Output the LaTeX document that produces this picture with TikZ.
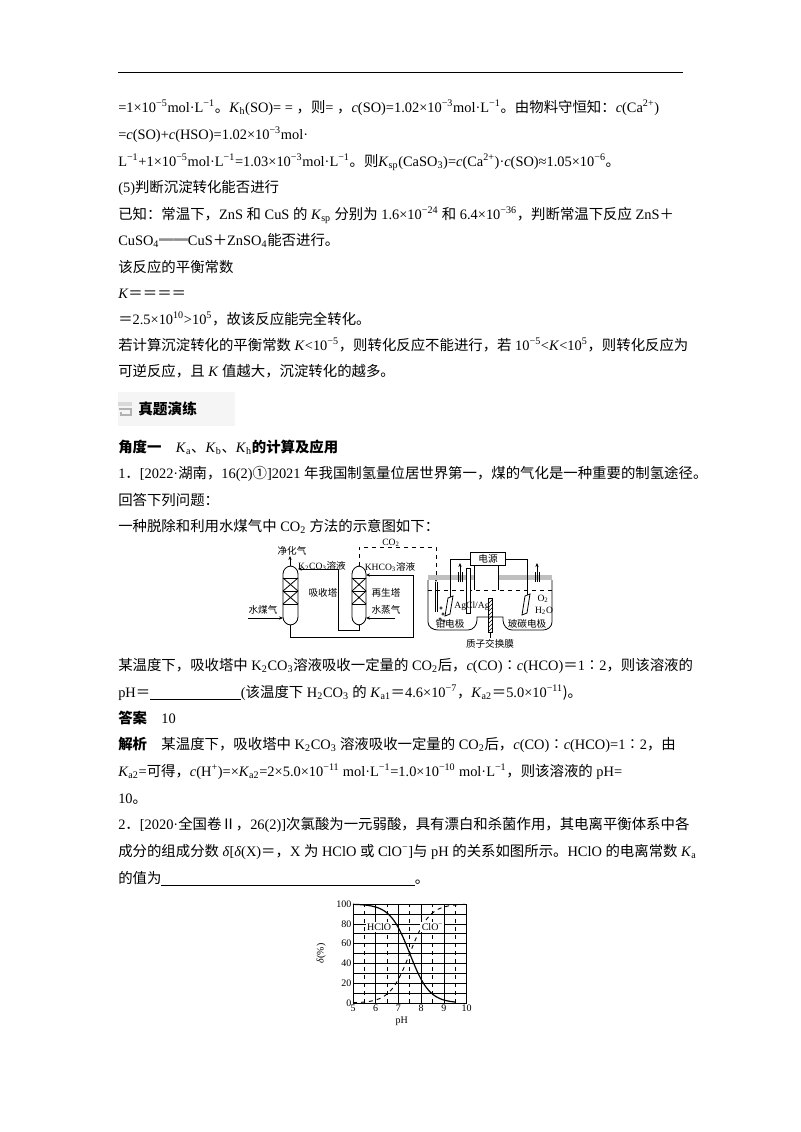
\documentclass[tikz,border=0pt]{standalone}
\usepackage{fontspec}
\setmainfont{Liberation Serif}
\newfontfamily\zhf{Noto Sans CJK SC}
\newcommand{\zh}[1]{{\zhf #1}}
\newcommand{\sps}[1]{\textsuperscript{#1}}
\newcommand{\sbs}[1]{\textsubscript{#1}}
\newcommand{\blank}[1]{\underline{\hbox to #1{}}}
\usetikzlibrary{patterns,arrows.meta}
\tikzset{
  tx/.style={anchor=base west,inner sep=0pt,font=\fontsize{10.8pt}{13pt}\selectfont},
  sm/.style={inner sep=0pt,font=\fontsize{7.2pt}{8pt}\selectfont},
  pipe/.style={line width=0.6pt},
  arr/.style={pipe,-{Stealth[length=3pt,width=2.5pt]}},
  ax/.style={inner sep=1pt,font=\fontsize{7.5pt}{8pt}\selectfont}
}
\begin{document}
\begin{tikzpicture}[x=0.75pt,y=-0.75pt]
\useasboundingbox[fill=white] (0,0) rectangle (800,1132);
\draw[line width=0.6pt] (118,72) -- (683,72);
% text lines
\node[tx] (l1) at (118,112) {=1×10\sps{−5}mol·L\sps{−1}\zh{。}\textit{K}\sbs{h}(SO)= = \zh{，则}= \zh{，}\textit{c}(SO)=1.02×10\sps{−3}mol·L\sps{−1}\zh{。由物料守恒知：}\textit{c}(Ca\sps{2+})};
\node[tx] (l2) at (118,139) {=\textit{c}(SO)+\textit{c}(HSO)=1.02×10\sps{−3}mol·};
\node[tx] (l3) at (118,166) {L\sps{−1}+1×10\sps{−5}mol·L\sps{−1}=1.03×10\sps{−3}mol·L\sps{−1}\zh{。则}\textit{K}\sbs{sp}(CaSO\sbs{3})=\textit{c}(Ca\sps{2+})·\textit{c}(SO)≈1.05×10\sps{−6}\zh{。}};
\node[tx] (l4) at (118,192) {(5)\zh{判断沉淀转化能否进行}};
\node[tx] (l5) at (118,219) {\zh{已知：常温下，}ZnS \zh{和} CuS \zh{的} \textit{K}\sbs{sp} \zh{分别为} 1.6×10\sps{−24} \zh{和} 6.4×10\sps{−36}\zh{，判断常温下反应} ZnS\zh{＋}};
\node[tx] (l6) at (118,245) {CuSO\sbs{4}\zh{══}CuS\zh{＋}ZnSO\sbs{4}\zh{能否进行。}};
\node[tx] (l7) at (118,272) {\zh{该反应的平衡常数}};
\node[tx] (l8) at (118,298) {\textit{K}\zh{＝＝＝＝}};
\node[tx] (l9) at (118,324) {\zh{＝}2.5×10\sps{10}>10\sps{5}\zh{，故该反应能完全转化。}};
\node[tx] (l10) at (118,350) {\zh{若计算沉淀转化的平衡常数} \textit{K}<10\sps{−5}\zh{，则转化反应不能进行，若} 10\sps{−5}<\textit{K}<10\sps{5}\zh{，则转化反应为}};
\node[tx] (l11) at (118,376) {\zh{可逆反应，且} \textit{K} \zh{值越大，沉淀转化的越多。}};
% header
\fill[gray!8] (118,392) rectangle (235,426);
\fill[gray!30] (118,402) rectangle (132,406);
\draw[gray!60,line width=1.2pt] (119,409) -- (131,409) -- (131,415) -- (121,415) -- (121,412);
\node[tx,font=\fontsize{11pt}{13pt}\selectfont\bfseries] (hd) at (138,414) {\zh{真题演练}};
\node[tx] (l12) at (118,452) {\zh{\bfseries 角度一}\quad \textit{K}\sbs{a}\zh{、}\textit{K}\sbs{b}\zh{、}\textit{K}\sbs{h}\zh{\bfseries 的计算及应用}};
\node[tx] (l13) at (118,478) {1\zh{．}[2022·\zh{湖南，}16(2)\zh{①}]2021 \zh{年我国制氢量位居世界第一，煤的气化是一种重要的制氢途径。}};
\node[tx] (l14) at (118,505) {\zh{回答下列问题：}};
\node[tx] (l15) at (118,531) {\zh{一种脱除和利用水煤气中} CO\sbs{2} \zh{方法的示意图如下：}};
% ---- process diagram ----
\begin{scope}[pipe]
\draw[rounded corners=6pt] (283,566) rectangle (298,625);
\draw (283,578) -- (298,578) (283,604) -- (298,604) (283,591) -- (298,591);
\draw (283,578) -- (298,591) (298,578) -- (283,591) (283,591) -- (298,604) (298,591) -- (283,604);
\draw[rounded corners=6pt] (352,566) rectangle (366,625);
\draw (352,578) -- (366,578) (352,604) -- (366,604) (352,591) -- (366,591);
\draw (352,578) -- (366,591) (366,578) -- (352,591) (352,591) -- (366,604) (366,591) -- (352,604);
\end{scope}
\coordinate (abT) at (290,566); \coordinate (abB) at (290,625);
\coordinate (rgT) at (359,566); \coordinate (rgB) at (359,625);
\draw[arr] (abT) -- (290,556);
\node[sm] (jh) at (292,551) {\zh{净化气}};
\draw[arr] (rgB) -- (359,630) -- (338,630) -- (338,569) -- (298,569);
\node[sm] (k2) at (322,566) {K\sbs{2}CO\sbs{3}\zh{溶液}};
\draw[arr] (abB) -- (290,637) -- (413,637) -- (413,575) -- (366,575);
\node[sm] (kh) at (390,567) {KHCO\sbs{3}\zh{溶液}};
\draw[arr] (248,618) -- (283,618);
\node[sm] (sm1) at (263,610) {\zh{水煤气}};
\draw[arr] (395,618) -- (366,618);
\node[sm] (sm2) at (386,610) {\zh{水蒸气}};
\node[sm] (xs) at (323,593) {\zh{吸收塔}};
\node[sm] (zs) at (386,593) {\zh{再生塔}};
\draw[pipe,dashed,-{Stealth[length=3pt,width=2.5pt]}] (rgT) -- (359,547) -- (436,547) -- (436,582);
\node[sm] (co2) at (391,543) {CO\sbs{2}};
% electrolysis cell
\begin{scope}[pipe]
\draw (428,580) -- (428,622) to[out=-90,in=180] (438,630) -- (468,630) to[out=0,in=-90] (477,620) -- (477,617) -- (503,617) -- (503,620) to[out=-90,in=180] (512,630) -- (543,630) to[out=0,in=-90] (552,622) -- (552,580);
\fill[gray!50] (428,575) rectangle (474,580);
\fill[gray!50] (498,575) rectangle (552,580);
\draw (474,560) -- (474,590) (498,560) -- (498,590);
\draw (474,560) -- (498,560);
\draw[dashed] (428,590) -- (552,590);
\end{scope}
\node[draw,pipe,fill=white,sm,minimum width=26pt,minimum height=10pt,inner sep=1pt] (dy) at (488,559) {\zh{电源}};
\draw[pipe] (dy.west) -- (450,559) -- (450,612);
\draw[pipe] (dy.east) -- (527,559) -- (527,605);
\draw[pipe] (435,582) -- (435,612) (437,582) -- (437,612);
\draw[pipe,fill=white] (466,568) rectangle (470,613);
\draw[arr] (460,582) -- (460,563);
\draw[pipe] (458,572) -- (458,582) (462,572) -- (462,582);
\draw[arr] (537,582) -- (537,563);
\draw[pipe] (535,572) -- (535,582) (539,572) -- (539,582);
\draw[pipe,fill=white] (448,598) -- (453,596) -- (450,614) -- (445,616) -- cycle;
\draw[pipe,fill=white] (525,596) -- (530,594) -- (527,613) -- (522,615) -- cycle;
\foreach \p in {(441,608),(443,614),(440,619),(444,621)} \draw[line width=0.4pt] \p circle (1.2);
\draw[pattern=north east lines,line width=0.4pt] (488,598) rectangle (492,632);
\draw[line width=0.4pt] (490,632) -- (490,638);
\node[sm] (agcl) at (472,606) {AgCl/Ag};
\node[sm] (o2) at (543,599) {O\sbs{2}};
\node[sm] (h2o) at (544,611) {H\sbs{2}O};
\node[sm] (pt) at (450,624) {\zh{铂电极}};
\node[sm] (bt) at (527,624) {\zh{玻碳电极}};
\node[sm] (zz) at (490,644) {\zh{质子交换膜}};
% text after diagram
\node[tx] (l16) at (118,670) {\zh{某温度下，吸收塔中} K\sbs{2}CO\sbs{3}\zh{溶液吸收一定量的} CO\sbs{2}\zh{后，}\textit{c}(CO)\zh{∶}\textit{c}(HCO)\zh{＝}1\zh{∶}2\zh{，则该溶液的}};
\node[tx] (l17) at (118,697) {pH\zh{＝}\blank{68pt}(\zh{该温度下} H\sbs{2}CO\sbs{3} \zh{的} \textit{K}\sbs{a1}\zh{＝}4.6×10\sps{−7}\zh{，}\textit{K}\sbs{a2}\zh{＝}5.0×10\sps{−11}\zh{)。}};
\node[tx] (l18) at (118,723) {\zh{\bfseries 答案}\quad 10};
\node[tx] (l19) at (118,749) {\zh{\bfseries 解析}\quad \zh{某温度下，吸收塔中} K\sbs{2}CO\sbs{3} \zh{溶液吸收一定量的} CO\sbs{2}\zh{后，}\textit{c}(CO)\zh{∶}\textit{c}(HCO)=1\zh{∶}2\zh{，由}};
\node[tx] (l20) at (118,776) {\textit{K}\sbs{a2}=\zh{可得，}\textit{c}(H\sps{+})=×\textit{K}\sbs{a2}=2×5.0×10\sps{−11} mol·L\sps{−1}=1.0×10\sps{−10} mol·L\sps{−1}\zh{，则该溶液的} pH=};
\node[tx] (l21) at (118,803) {10\zh{。}};
\node[tx] (l22) at (118,829) {2\zh{．}[2020·\zh{全国卷Ⅱ，}26(2)]\zh{次氯酸为一元弱酸，具有漂白和杀菌作用，其电离平衡体系中各}};
\node[tx] (l23) at (118,856) {\zh{成分的组成分数} \textit{δ}[\textit{δ}(X)\zh{＝，}X \zh{为} HClO \zh{或} ClO\sps{−}]\zh{与} pH \zh{的关系如图所示。}HClO \zh{的电离常数} \textit{K}\sbs{a}};
\node[tx] (l24) at (118,883) {\zh{的值为}\blank{190pt}\zh{。}};
% ---- graph ----
\begin{scope}[shift={(353,1003)},x=22.7*0.75pt,y=0.99*0.75pt]
\foreach \v in {10,20,...,90} \draw[line width=0.4pt] (0,\v) -- (5,\v);
\foreach \v in {6,7,8,9} \draw[line width=0.4pt] (\v-5,0) -- (\v-5,100);
\foreach \v in {5.5,6.5,7.5,8.5,9.5} \draw[line width=0.4pt,dashed] (\v-5,0) -- (\v-5,100);
\draw[line width=0.6pt] (0,0) rectangle (5,100);
\foreach \v in {0,20,40,60,80,100} \node[ax,anchor=east] at (0,\v) {\v};
\foreach \v in {5,6,7,8,9,10} \node[ax,anchor=north] at (\v-5,0) {\v};
\draw[line width=0.9pt,domain=0:4.5,samples=100] plot (\x,{100/(1+exp(2.302585*(\x-2.5)))});
\draw[line width=0.7pt,dashed,domain=0:5,samples=100] plot (\x,{100/(1+exp(2.302585*(2.5-\x)))});
\node[ax,fill=white] (hclo) at (1.15,77) {HClO};
\node[ax,fill=white] (clo) at (3.5,77) {ClO\sps{−}};
\node[ax] (ph) at (2.15,-18) {pH};
\node[ax,rotate=90] (dl) at (-1.4,50) {\textit{δ}(\%)};
\end{scope}
\end{tikzpicture}
\end{document}
